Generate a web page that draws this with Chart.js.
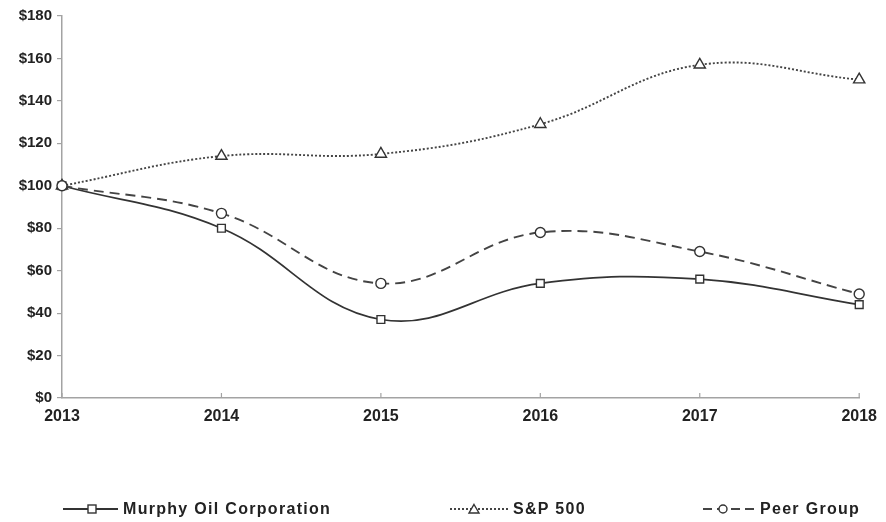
<!DOCTYPE html>
<html>
<head>
<meta charset="utf-8">
<script src="https://cdn.jsdelivr.net/npm/chart.js@4.4.0/dist/chart.umd.min.js"></script>
<style>
  html, body { margin: 0; padding: 0; background: #fff; }
  #wrap { position: relative; width: 886px; height: 522px; }
  .lt { position: absolute; font: bold 16px "Liberation Sans", Arial, sans-serif; color: #222; line-height: 20px; letter-spacing: 1.3px; white-space: nowrap; }
  .ls { position: absolute; }
</style>
</head>
<body>
<div id="wrap">
  <canvas id="c" width="886" height="522"></canvas>
  <svg class="ls" style="left:61px;top:503px" width="60" height="12">
    <line x1="2" y1="6" x2="57" y2="6" stroke="#333" stroke-width="1.8"/>
    <rect x="27" y="2" width="8" height="8" fill="#fff" stroke="#333" stroke-width="1.4"/>
  </svg>
  <div class="lt" style="left:123px;top:499px">Murphy Oil Corporation</div>
  <svg class="ls" style="left:448px;top:503px" width="62" height="12">
    <line x1="2" y1="6" x2="60" y2="6" stroke="#444" stroke-width="1.8" stroke-dasharray="2,2"/>
    <polygon points="26,1.5 31,10 21,10" fill="#fff" stroke="#333" stroke-width="1.4"/>
  </svg>
  <div class="lt" style="left:513px;top:499px">S&amp;P 500</div>
  <svg class="ls" style="left:701px;top:503px" width="58" height="12">
    <line x1="2" y1="6" x2="56" y2="6" stroke="#444" stroke-width="1.8" stroke-dasharray="9,5"/>
    <circle cx="22" cy="6" r="4" fill="#fff" stroke="#333" stroke-width="1.4"/>
  </svg>
  <div class="lt" style="left:760px;top:499px">Peer Group</div>
</div>
<script>
const years = ['2013', '2014', '2015', '2016', '2017', '2018'];
const murphy = [100, 80, 37, 54, 56, 44];
const sp500 = [100, 114, 115, 129, 157, 150];
const peer = [100, 87, 54, 78, 69, 49];
const yTicks = [0, 20, 40, 60, 80, 100, 120, 140, 160, 180];

const axisColor = '#a3a3a3';
const textColor = '#222';

const xTickPlugin = {
  id: 'xTickUp',
  afterDraw(chart) {
    const x = chart.scales.x, y = chart.scales.y;
    const ctx = chart.ctx;
    ctx.save();
    ctx.strokeStyle = axisColor;
    ctx.lineWidth = 1.2;
    x.ticks.forEach((t, i) => {
      const px = x.getPixelForTick(i);
      ctx.beginPath();
      ctx.moveTo(px, y.bottom);
      ctx.lineTo(px, y.bottom - 5);
      ctx.stroke();
    });
    ctx.restore();
  }
};

const common = {
  borderWidth: 1.7,
  pointRadius: 5,
  pointBorderWidth: 1.4,
  pointBackgroundColor: '#fff',
  pointBorderColor: '#333',
  tension: 0.4,
  fill: false,
  clip: false
};

new Chart(document.getElementById('c'), {
  type: 'line',
  data: {
    labels: years,
    datasets: [
      Object.assign({}, common, {
        label: 'Peer Group', data: peer, borderColor: '#444', borderDash: [10, 6], pointStyle: 'circle', borderWidth: 1.9
      }),
      Object.assign({}, common, {
        label: 'S&P 500', data: sp500, borderColor: '#444', borderDash: [2, 2], pointStyle: 'triangle', borderWidth: 1.9, pointRadius: 6.5
      }),
      Object.assign({}, common, {
        label: 'Murphy Oil Corporation', data: murphy, borderColor: '#333', pointStyle: 'rect', pointRadius: 5.5
      })
    ]
  },
  options: {
    responsive: false,
    animation: false,
    devicePixelRatio: 1,
    layout: { padding: { left: 0, right: 23, top: 16, bottom: 0 } },
    plugins: { legend: { display: false }, tooltip: { enabled: false } },
    scales: {
      x: {
        offset: false,
        grid: { display: true, drawOnChartArea: false, drawTicks: false },
        border: { display: true, color: axisColor, width: 1.5 },
        ticks: { color: textColor, font: { family: '"Liberation Sans", Arial, sans-serif', size: 16, weight: 'bold' }, padding: 9, maxRotation: 0, autoSkip: false },
        afterFit(s) { s.height = 124; }
      },
      y: {
        min: 0, max: 180,
        afterBuildTicks(s) { s.ticks = yTicks.map(v => ({ value: v })); },
        grid: { display: true, drawOnChartArea: false, drawTicks: true, tickLength: 5, color: axisColor, lineWidth: 1.2 },
        border: { display: true, color: axisColor, width: 1.5 },
        ticks: { color: textColor, font: { family: '"Liberation Sans", Arial, sans-serif', size: 15, weight: 'bold' }, padding: 5, callback: v => '$' + v },
        afterFit(s) { s.width = 62; }
      }
    }
  },
  plugins: [xTickPlugin]
});
</script>
</body>
</html>
